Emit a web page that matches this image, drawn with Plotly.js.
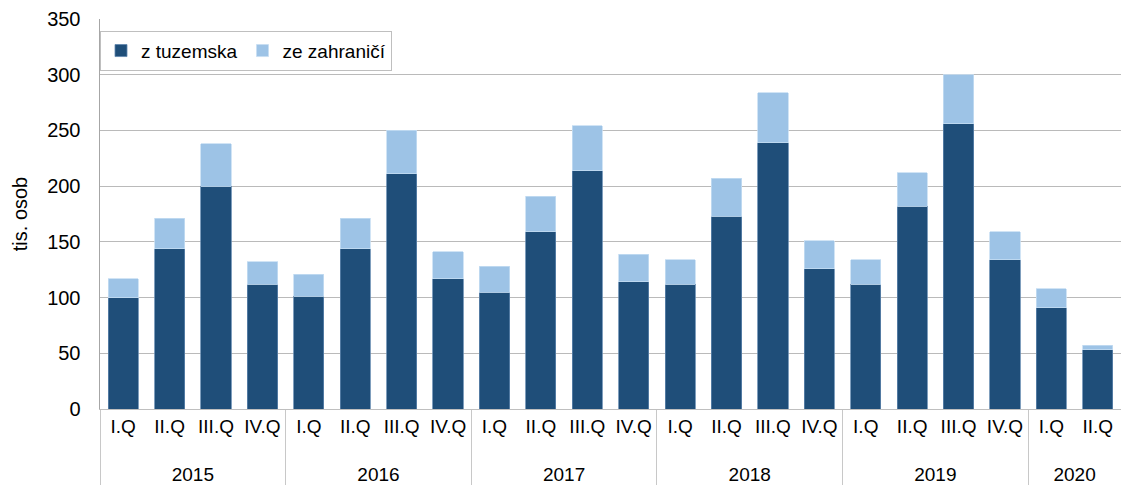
<!DOCTYPE html>
<html>
<head>
<meta charset="utf-8">
<script src="https://cdn.plot.ly/plotly-3.0.1.min.js"></script>
<style>html,body{margin:0;padding:0;background:#fff}#chart{width:1121px;height:486px}</style>
</head>
<body>
<div id="chart"></div>
<script>
const years = ["2015","2015","2015","2015","2016","2016","2016","2016","2017","2017","2017","2017","2018","2018","2018","2018","2019","2019","2019","2019","2020","2020"];
const quarters = ["I.Q","II.Q","III.Q","IV.Q","I.Q","II.Q","III.Q","IV.Q","I.Q","II.Q","III.Q","IV.Q","I.Q","II.Q","III.Q","IV.Q","I.Q","II.Q","III.Q","IV.Q","I.Q","II.Q"];
const domestic = [100, 144, 200, 112, 101, 144, 211, 117, 105, 159, 214, 114, 112, 173, 239, 126, 112, 182, 256, 134, 91, 53];
const foreign = [17, 27, 38, 20, 20, 27, 39, 24, 23, 32, 40, 25, 22, 34, 45, 25, 22, 30, 44, 25, 17, 4];

// outer level labels get a leading line break so they sit lower, as in the reference
const yearLabels = years.map(function (y) { return "<br>" + y; });
const x = [yearLabels, quarters];
const traces = [
  {type: "bar", x: x, name: "z tuzemska", y: domestic, marker: {color: "#1F4E79", line: {color: "#5F86AD", width: 0.8}}},
  {type: "bar", x: x, name: "ze zahraničí", y: foreign, marker: {color: "#9DC3E6", line: {color: "#C6DDF2", width: 0.8}}}
];
const fam = "Liberation Sans, Arial, sans-serif";
const font = {family: fam, size: 20, color: "#000"};
const layout = {
  width: 1121, height: 486,
  margin: {l: 100, r: 0, t: 19, b: 77},
  barmode: "stack",
  bargap: 0.35,
  paper_bgcolor: "#fff", plot_bgcolor: "#fff",
  font: font,
  showlegend: true,
  legend: {orientation: "h", x: 0.0, y: 0.97, xanchor: "left", yanchor: "top",
           bordercolor: "#bfbfbf", borderwidth: 1, bgcolor: "#fff",
           font: {family: fam, size: 19, color: "#000"},
           traceorder: "normal", itemwidth: 30, tracegroupgap: 0},
  xaxis: {type: "multicategory", showline: true, linecolor: "#bfbfbf", linewidth: 1,
          showgrid: false, ticks: "outside", ticklen: 9, tickcolor: "rgba(0,0,0,0)",
          tickangle: 0,
          tickfont: {family: fam, size: 19, color: "#000"},
          showdividers: true, dividercolor: "#c8c8c8", dividerwidth: 1},
  yaxis: {range: [0, 350], dtick: 50, showline: true, linecolor: "#a6a6a6", linewidth: 1.5,
          gridcolor: "#bababa", gridwidth: 1.2, ticks: "", ticklabelstandoff: 14,
          zeroline: false, tickfont: {family: fam, size: 20, color: "#000"},
          title: {text: "tis. osob", font: {family: fam, size: 20, color: "#000"}, standoff: 14}}
};
Plotly.newPlot("chart", traces, layout, {displayModeBar: false, staticPlot: true});
</script>
</body>
</html>
